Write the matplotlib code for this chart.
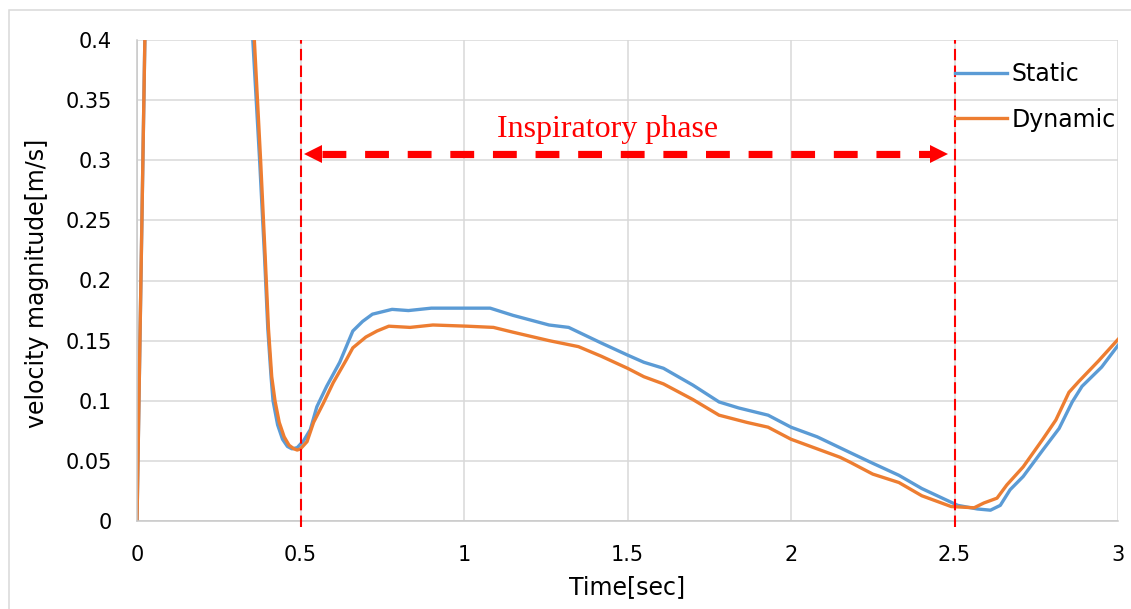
import matplotlib
matplotlib.use('Agg')
import matplotlib.pyplot as plt
from matplotlib.patches import Rectangle
from matplotlib.ticker import FormatStrFormatter

# data
static_t = [0, 0.03, 0.1, 0.3, 0.35, 0.375, 0.39, 0.40, 0.41, 0.416,
            0.43, 0.445, 0.46, 0.474, 0.49, 0.51, 0.53, 0.55, 0.58, 0.62,
            0.66, 0.69, 0.72, 0.78, 0.83, 0.9, 1.0, 1.08, 1.15, 1.26, 1.32,
            1.42, 1.5, 1.55, 1.61, 1.70, 1.78, 1.84, 1.93, 2.0, 2.08,
            2.18, 2.25, 2.33, 2.40, 2.51, 2.57, 2.61, 2.64, 2.67, 2.71,
            2.77, 2.82, 2.86, 2.89, 2.95, 3.0]
static_v = [0, 0.5, 0.9, 0.6, 0.42, 0.3, 0.22, 0.16, 0.12, 0.10,
            0.08, 0.068, 0.062, 0.060, 0.061, 0.067, 0.076, 0.095, 0.112, 0.132,
            0.158, 0.166, 0.172, 0.176, 0.175, 0.177, 0.177, 0.177, 0.171, 0.163, 0.161,
            0.148, 0.138, 0.132, 0.127, 0.113, 0.099, 0.094, 0.088, 0.078, 0.070,
            0.057, 0.048, 0.038, 0.027, 0.013, 0.010, 0.009, 0.013, 0.026, 0.037,
            0.059, 0.077, 0.099, 0.112, 0.128, 0.146]

dynamic_t = [0, 0.03, 0.1, 0.3, 0.355, 0.378, 0.392, 0.402, 0.412, 0.422,
             0.435, 0.45, 0.465, 0.48, 0.49, 0.50, 0.52, 0.54, 0.57, 0.60,
             0.64, 0.66, 0.70, 0.734, 0.77, 0.835, 0.905, 1.01, 1.09, 1.15, 1.26,
             1.35, 1.42, 1.5, 1.55, 1.61, 1.70, 1.78, 1.865, 1.93, 2.0,
             2.08, 2.15, 2.18, 2.25, 2.33, 2.40, 2.49, 2.56, 2.59, 2.63,
             2.66, 2.71, 2.77, 2.81, 2.85, 2.88, 2.94, 3.0]
dynamic_v = [0, 0.5, 0.9, 0.6, 0.42, 0.3, 0.22, 0.16, 0.12, 0.10,
             0.082, 0.07, 0.063, 0.06, 0.059, 0.060, 0.066, 0.082, 0.098, 0.115,
             0.134, 0.144, 0.153, 0.158, 0.162, 0.161, 0.163, 0.162, 0.161, 0.157, 0.150,
             0.145, 0.137, 0.127, 0.120, 0.114, 0.101, 0.088, 0.082, 0.078, 0.068,
             0.060, 0.053, 0.049, 0.039, 0.032, 0.021, 0.012, 0.011, 0.015, 0.019,
             0.030, 0.045, 0.068, 0.084, 0.107, 0.116, 0.133, 0.151]

phase_start = 0.5
phase_end = 2.5
arrow_y = 0.305
phase_label = 'Inspiratory phase'

x_ticks = [0, 0.5, 1, 1.5, 2, 2.5, 3]
y_ticks = [0, 0.05, 0.1, 0.15, 0.2, 0.25, 0.3, 0.35, 0.4]

W, H = 1131, 609
fig = plt.figure(figsize=(W / 100, H / 100), dpi=100)
ax = fig.add_axes([137 / W, 1 - 521 / H, (1118 - 137) / W, (521 - 40) / H])

# outer chart border
fig.patches.append(Rectangle((9 / W, -0.1), 1.2, 1 - 10 / H + 0.1, transform=fig.transFigure,
                             fill=False, edgecolor='#d9d9d9', linewidth=1.1))

ax.plot(static_t, static_v, color='#5B9BD5', lw=2.4, label='Static')
ax.plot(dynamic_t, dynamic_v, color='#ED7D31', lw=2.4, label='Dynamic')

# phase boundaries
for xv in (phase_start, phase_end):
    ax.plot([xv, xv], [-0.005, 0.4], color='red', lw=1.5, dashes=(5.5, 2.5), clip_on=False, zorder=4)

# double headed dashed arrow
head_off = 0.038
ax.plot([phase_start + 0.066, phase_end - 0.075], [arrow_y, arrow_y], color='red', lw=5.2,
        dashes=(3.3, 2.6), solid_capstyle='butt', zorder=4)
ax.plot([phase_start + head_off], [arrow_y], marker='<', ms=12.5, color='red', mew=0, zorder=5)
ax.plot([phase_end - head_off - 0.01], [arrow_y], marker='>', ms=12.5, color='red', mew=0, zorder=5)
ax.text(1.44, 0.319, phase_label, color='red', fontsize=23, family='Liberation Serif',
        ha='center', va='baseline')

ax.set_xlim(0, 3)
ax.set_ylim(0, 0.4)
ax.set_xticks(x_ticks)
ax.set_yticks(y_ticks)
ax.xaxis.set_major_formatter(FormatStrFormatter('%g'))
ax.yaxis.set_major_formatter(FormatStrFormatter('%g'))
ax.tick_params(length=0, labelsize=15)
ax.tick_params(axis='x', pad=17)
ax.tick_params(axis='y', pad=18)
ax.grid(True, color='#d9d9d9', lw=1.1)
ax.set_axisbelow(True)
for s in ('top', 'right'):
    ax.spines[s].set_visible(False)
for s in ('left', 'bottom'):
    ax.spines[s].set_color('#c8c8c8')
    ax.spines[s].set_linewidth(1.1)

fig.text(627 / W, 1 - 587 / H, 'Time[sec]', fontsize=17, ha='center', va='center')
fig.text(37 / W, 1 - 283 / H, 'velocity magnitude[m/s]', fontsize=17, rotation=90,
         ha='center', va='center')

fig.legend(loc='upper left', bbox_to_anchor=(955 / W, 1 - 62 / H), frameon=False,
           fontsize=17, handlelength=2.2, handletextpad=0.2, labelspacing=0.92,
           borderpad=0, borderaxespad=0)

fig.savefig('out.png', dpi=100)
